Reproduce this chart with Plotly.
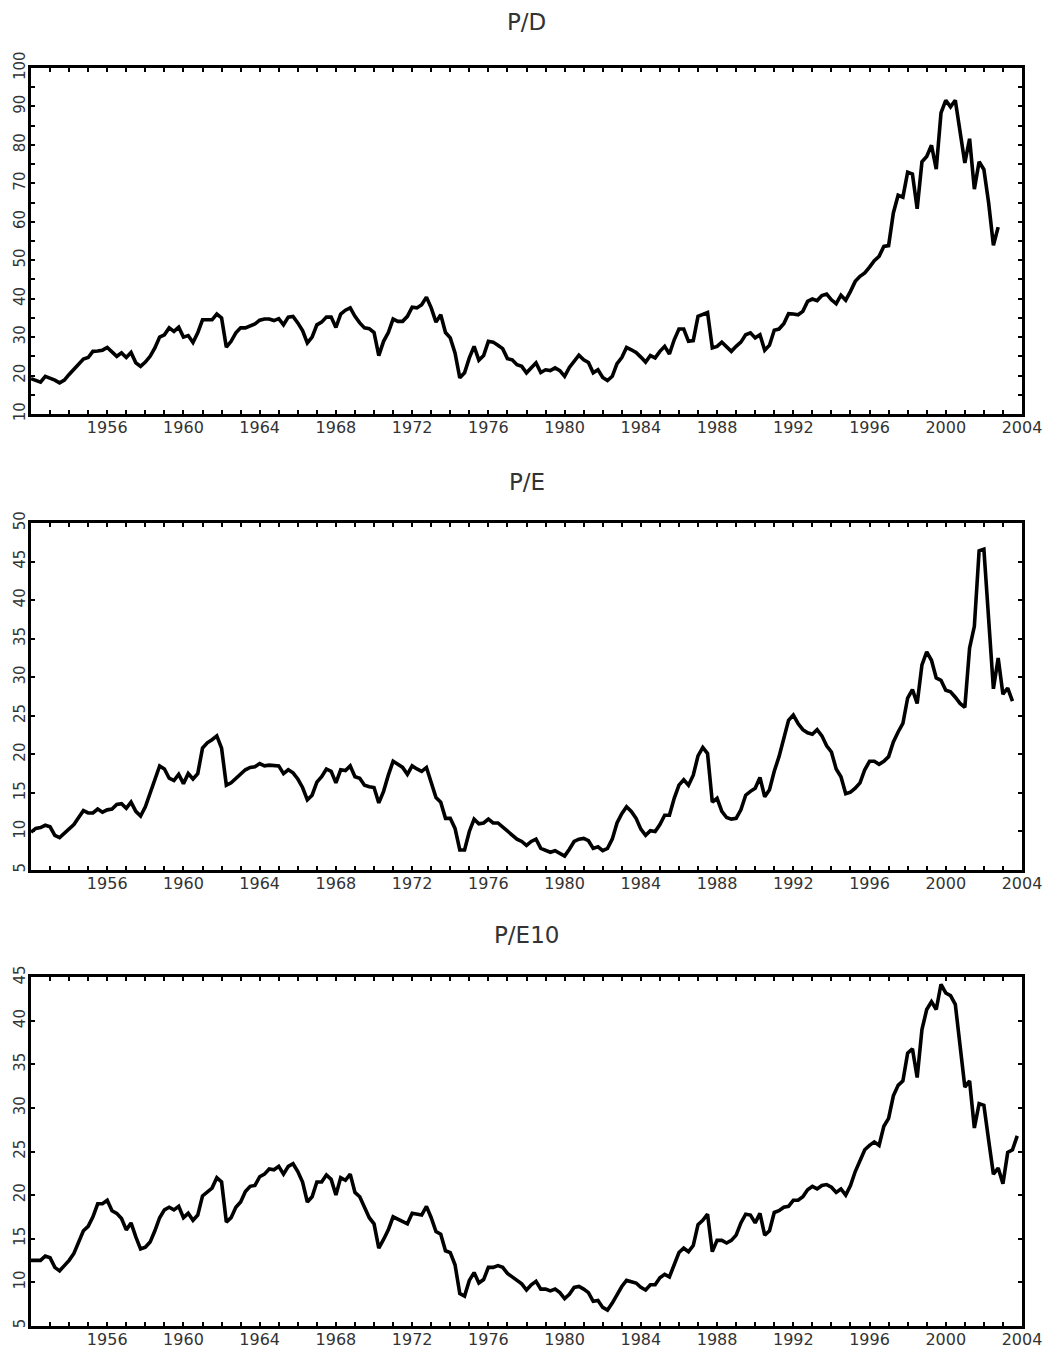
import plotly.graph_objects as go

# ---------------- data (quarterly, starting 1952 Q1) ----------------
start_year = 1952
pd_values = [
    19.2, 18.8, 18.3, 19.8,  19.4, 18.8, 18.1, 18.8,  20.3, 21.6, 22.8, 24.3,  24.7, 26.3, 26.4, 26.6,
    27.3, 26.1, 25.0, 25.9,  24.7, 26.0, 23.3, 22.4,  23.5, 25.0, 27.2, 30.0,  30.6, 32.4, 31.5, 32.6,
    30.0, 30.4, 28.6, 31.1,  34.5, 34.5, 34.5, 36.0,  35.0, 27.4, 28.9, 31.1,  32.4, 32.4, 32.8, 33.4,
    34.4, 34.7, 34.7, 34.3,  34.8, 33.2, 35.2, 35.4,  33.7, 31.7, 28.5, 30.0,  33.2, 33.9, 35.2, 35.2,
    32.5, 36.0, 37.0, 37.6,  35.4, 33.7, 32.4, 32.2,  31.2, 25.2, 28.9, 31.2,  34.7, 34.1, 34.1, 35.4,
    37.8, 37.6, 38.4, 40.4,  37.6, 33.9, 35.8, 31.2,  29.8, 25.9, 19.4, 20.7,  24.6, 27.6, 24.0, 25.2,
    28.9, 28.7, 27.9, 27.0,  24.4, 24.1, 22.8, 22.4,  20.7, 22.0, 23.3, 20.8,  21.5, 21.3, 22.0, 21.3,
    19.8, 22.1, 23.7, 25.3,  24.1, 23.4, 20.7, 21.5,  19.5, 18.7, 19.8, 23.1,  24.7, 27.3, 26.7, 26.0,
    24.8, 23.5, 25.2, 24.6,  26.3, 27.6, 25.6, 29.3,  32.1, 32.1, 28.9, 29.1,  35.4, 36.0, 36.4, 27.2,
    27.6, 28.7, 27.6, 26.3,  27.6, 28.7, 30.6, 31.1,  29.8, 30.6, 26.6, 27.9,  31.8, 32.1, 33.5, 36.1,
    36.0, 35.8, 36.7, 39.3,  39.9, 39.5, 40.8, 41.2,  39.7, 38.7, 40.9, 39.6,  41.9, 44.5, 45.8, 46.7,
    48.2, 49.9, 51.0, 53.6,  53.8, 62.3, 66.9, 66.4,  72.9, 72.4, 63.4, 75.6,  77.0, 79.9, 73.7, 88.3,
    91.6, 89.9, 91.6, 83.5,  75.3, 81.6, 68.5, 75.6,  73.6, 64.9, 53.9, 58.6,
]
pe_values = [
    9.9, 10.4, 10.5, 10.8,  10.6, 9.5, 9.2, 9.8,  10.3, 10.9, 11.8, 12.7,  12.4, 12.4, 12.9, 12.5,
    12.8, 12.9, 13.5, 13.6,  13.0, 13.8, 12.6, 12.0,  13.2, 14.9, 16.8, 18.5,  18.1, 16.9, 16.6, 17.4,
    16.2, 17.5, 16.8, 17.5,  20.8, 21.5, 21.9, 22.4,  20.8, 16.0, 16.3, 16.9,  17.4, 18.0, 18.3, 18.4,
    18.8, 18.5, 18.6, 18.5,  18.5, 17.5, 18.0, 17.6,  16.8, 15.7, 14.1, 14.7,  16.4, 17.1, 18.1, 17.8,
    16.3, 18.0, 17.9, 18.5,  17.1, 16.9, 16.0, 15.8,  15.7, 13.7, 15.2, 17.3,  19.1, 18.7, 18.3, 17.4,
    18.5, 18.1, 17.8, 18.3,  16.5, 14.4, 13.8, 11.7,  11.7, 10.4, 7.6, 7.6,  10.0, 11.6, 11.0, 11.1,
    11.6, 11.1, 11.1, 10.6,  10.1, 9.5, 9.0, 8.7,  8.2, 8.7, 9.0, 7.8,  7.6, 7.3, 7.5, 7.2,
    6.8, 7.7, 8.7, 9.0,  9.1, 8.8, 7.8, 8.0,  7.5, 7.8, 9.0, 11.1,  12.3, 13.2, 12.6, 11.7,
    10.3, 9.5, 10.1, 10.0,  10.9, 12.1, 12.1, 14.3,  16.0, 16.7, 16.0, 17.3,  19.8, 20.9, 20.1, 13.8,
    14.3, 12.6, 11.8, 11.6,  11.7, 12.8, 14.7, 15.2,  15.6, 17.0, 14.5, 15.4,  17.8, 19.7, 21.9, 24.4,
    25.1, 24.0, 23.2, 22.8,  22.6, 23.2, 22.4, 21.1,  20.3, 18.1, 17.1, 14.9,  15.1, 15.6, 16.3, 18.0,
    19.1, 19.1, 18.7, 19.1,  19.7, 21.6, 22.9, 24.0,  27.3, 28.4, 26.6, 31.6,  33.3, 32.2, 29.9, 29.6,
    28.3, 28.1, 27.4, 26.6,  26.1, 33.8, 36.6, 46.4,  46.6, 37.9, 28.5, 32.5,  27.8, 28.6, 26.9,
]
pe10_values = [
    12.5, 12.5, 12.5, 13.0,  12.8, 11.7, 11.3, 11.9,  12.5, 13.3, 14.5, 15.9,  16.4, 17.5, 19.0, 19.0,
    19.4, 18.2, 17.9, 17.3,  16.0, 16.8, 15.2, 13.8,  14.0, 14.6, 15.9, 17.4,  18.3, 18.6, 18.3, 18.7,
    17.4, 17.9, 17.1, 17.7,  19.9, 20.4, 20.8, 22.0,  21.5, 16.9, 17.4, 18.6,  19.2, 20.4, 21.0, 21.1,
    22.1, 22.4, 23.0, 22.9,  23.3, 22.4, 23.3, 23.6,  22.7, 21.5, 19.2, 19.8,  21.5, 21.5, 22.3, 21.8,
    20.0, 22.0, 21.7, 22.4,  20.3, 19.8, 18.5, 17.4,  16.7, 13.9, 14.9, 16.0,  17.5, 17.2, 16.9, 16.7,
    17.9, 17.8, 17.7, 18.7,  17.4, 15.8, 15.5, 13.6,  13.4, 12.0, 8.7, 8.4,  10.2, 11.1, 9.9, 10.3,
    11.7, 11.7, 11.9, 11.7,  11.0, 10.6, 10.2, 9.8,  9.1, 9.7, 10.1, 9.2,  9.2, 9.0, 9.2, 8.8,
    8.1, 8.6, 9.4, 9.5,  9.2, 8.8, 7.8, 7.9,  7.1, 6.8, 7.6, 8.6,  9.5, 10.2, 10.1, 9.9,
    9.4, 9.1, 9.7, 9.7,  10.5, 10.9, 10.6, 12.0,  13.4, 13.9, 13.5, 14.2,  16.6, 17.1, 17.8, 13.5,
    14.8, 14.8, 14.5, 14.8,  15.4, 16.8, 17.8, 17.7,  16.8, 17.9, 15.4, 15.9,  18.0, 18.2, 18.6, 18.7,
    19.4, 19.4, 19.8, 20.6,  21.0, 20.7, 21.1, 21.2,  20.9, 20.3, 20.7, 20.0,  21.1, 22.7, 24.0, 25.2,
    25.7, 26.1, 25.7, 27.9,  28.8, 31.4, 32.6, 33.1,  36.3, 36.8, 33.5, 39.0,  41.3, 42.2, 41.3, 44.2,
    43.2, 42.9, 41.9, 37.2,  32.4, 33.1, 27.7, 30.5,  30.3, 26.3, 22.4, 23.1,  21.3, 24.9, 25.2, 26.8,
]
panel_titles = ["P/D", "P/E", "P/E10"]
x_tick_years = [1956, 1960, 1964, 1968, 1972, 1976, 1980, 1984, 1988, 1992, 1996, 2000, 2004]
x_range = [1952, 2004]
y_ranges = [[10, 100], [5, 50], [5, 45]]
y_major_steps = [10, 5, 5]
y_minor_steps = [5, 5, 5]


def quarters(n):
    return [start_year + 0.25 * i for i in range(n)]


series = [pd_values, pe_values, pe10_values]

# ---------------- layout ----------------
W, H = 1047, 1349
ML, MR, MT, MB = 31, 25, 68, 23
plot_h = H - MT - MB


def py2paper(py):
    return (H - MB - py) / plot_h


panels_px = [(68, 414), (523, 870), (977.3, 1325.7)]   # (top, bottom) pixel rows
title_px = [21.7, 481.7, 935]

fig = go.Figure()
tick_font = dict(family="DejaVu Sans", size=16, color="#333333")

for i, vals in enumerate(series):
    n = "" if i == 0 else str(i + 1)
    fig.add_trace(go.Scatter(
        x=quarters(len(vals)), y=vals, mode="lines",
        line=dict(color="black", width=3.6),
        xaxis="x" + n, yaxis="y" + n, showlegend=False, hoverinfo="skip",
    ))
    top, bot = panels_px[i]
    common = dict(
        showline=True, linewidth=3, linecolor="black", mirror="allticks",
        ticks="inside", ticklen=4, tickwidth=1.5, tickcolor="black",
        showgrid=False, zeroline=False, automargin=False,
    )
    fig.layout["xaxis" + n] = dict(
        common, domain=[0, 1], anchor="y" + n, range=x_range,
        tickmode="array", tickvals=x_tick_years, ticktext=[str(v) for v in x_tick_years],
        tickfont=tick_font, ticklabelstandoff=-3,
        minor=dict(ticks="inside", ticklen=4, tickwidth=1.5, tickcolor="black",
                   dtick=1, tick0=1952, showgrid=False),
    )
    lo, hi = y_ranges[i]
    fig.layout["yaxis" + n] = dict(
        common, domain=[py2paper(bot), py2paper(top)], anchor="x" + n, range=[lo, hi],
        tickmode="linear", tick0=lo, dtick=y_major_steps[i], tickangle=-90,
        tickfont=dict(family="DejaVu Sans", size=15, color="#333333"), ticklabelstandoff=-3,
        minor=dict(ticks="inside", ticklen=4, tickwidth=1.5, tickcolor="black",
                   dtick=y_minor_steps[i], tick0=lo, showgrid=False),
    )
    fig.add_annotation(
        text=panel_titles[i], xref="paper", yref="paper", x=0.5, y=py2paper(title_px[i]),
        xanchor="center", yanchor="middle", showarrow=False,
        font=dict(family="DejaVu Sans", size=23, color="#333333"),
    )

fig.update_layout(
    width=W, height=H,
    margin=dict(l=ML, r=MR, t=MT, b=MB),
    paper_bgcolor="white", plot_bgcolor="white",
    showlegend=False,
)

fig.write_html(
    "out.html",
    config={"displayModeBar": False},
    post_script="document.body.style.margin='0';document.body.style.overflow='hidden';",
)
